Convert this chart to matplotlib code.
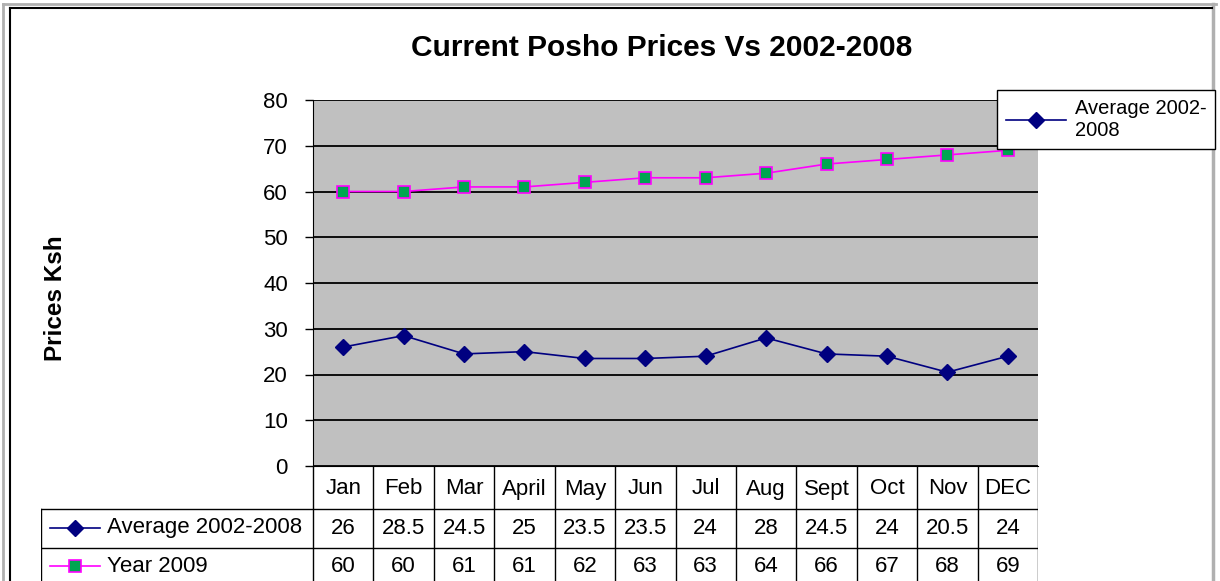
import numpy as np
import matplotlib.pyplot as plt
from matplotlib.lines import Line2D

plt.rcParams['font.family'] = ['Liberation Sans', 'DejaVu Sans']

months = ['Jan', 'Feb', 'Mar', 'April', 'May', 'Jun', 'Jul', 'Aug', 'Sept', 'Oct', 'Nov', 'DEC']
avg_0208 = [26, 28.5, 24.5, 25, 23.5, 23.5, 24, 28, 24.5, 24, 20.5, 24]
year_2009 = [60, 60, 61, 61, 62, 63, 63, 64, 66, 67, 68, 69]
series_names = ['Average 2002-2008', 'Year 2009']

W, H = 1220, 581
fig = plt.figure(figsize=(W / 100, H / 100), dpi=100)

navy = '#000080'
magenta = '#FF00FF'
green = '#00A651'
fs = 16

# plot area
ax = fig.add_axes([313 / W, 1 - 466 / H, 725 / W, 366 / H])
ax.set_facecolor('#C0C0C0')
n = len(months)
x = np.arange(n) + 0.5
ax.plot(x, avg_0208, color=navy, marker='D', ms=8, lw=1.2, zorder=3)
ax.plot(x, year_2009, color=magenta, marker='s', ms=8, mfc=green, mec=magenta,
        mew=1.2, lw=1.2, zorder=3)
ax.set_xlim(0, n)
ax.set_ylim(0, 80)
ax.set_yticks(range(0, 81, 10))
ax.set_xticks([])
ax.yaxis.grid(True, color='black', lw=1.3)
ax.set_axisbelow(True)
for s in ['top', 'right']:
    ax.spines[s].set_visible(False)
ax.spines['left'].set_color('black')
ax.spines['bottom'].set_color('black')
ax.tick_params(axis='y', direction='out', length=6, width=1, pad=12, labelsize=fs)

fig.text(55 / W, 1 - 298 / H, 'Prices Ksh', rotation=90, ha='center', va='center',
         fontsize=17.5, fontweight='bold')
fig.text(662 / W, 1 - 48 / H, 'Current Posho Prices Vs 2002-2008', ha='center',
         va='center', fontsize=21.5, fontweight='bold')

# legend
h = Line2D([], [], color=navy, marker='D', ms=8, lw=1.2)
leg = fig.legend([h], ['Average 2002-\n2008'], loc='upper left',
                 bbox_to_anchor=(997 / W, 1 - 90 / H), fontsize=14.5, frameon=True,
                 fancybox=False, edgecolor='black', framealpha=1, borderaxespad=0,
                 handlelength=3.0, handletextpad=0.4, borderpad=0.45, labelspacing=0.1)
leg.get_frame().set_linewidth(1)

# data table below the plot
unit = 725 / n
xl = -(313 - 41) / unit
tb = fig.add_axes([41 / W, 0, (1038 - 41) / W, 115 / H])
tb.set_xlim(xl, n)
tb.set_ylim(115, 0)
tb.axis('off')
rows = [0, 43, 82, 121]
for i in range(n + 1):
    tb.plot([i, i], [0, 115], color='black', lw=1)
tb.plot([xl, xl], [rows[1], 115], color='black', lw=1)
for r in rows[1:3]:
    tb.plot([xl, n], [r, r], color='black', lw=1)

for i, m in enumerate(months):
    tb.text(i + 0.5, 23, m, ha='center', va='center', fontsize=fs)
    tb.text(i + 0.5, 62, f'{avg_0208[i]:g}', ha='center', va='center', fontsize=fs)
    tb.text(i + 0.5, 100, f'{year_2009[i]:g}', ha='center', va='center', fontsize=fs)

lx0, lx1 = (50 - 313) / unit, (100 - 313) / unit
line_cols = [navy, magenta]
styles = [dict(color=navy, marker='D', ms=8),
          dict(color=magenta, marker='s', ms=8, mfc=green, mec=magenta, mew=1.2)]
for k, (name, ry) in enumerate(zip(series_names, [62, 100])):
    tb.plot([lx0, lx1], [ry, ry], lw=1.2, color=line_cols[k])
    tb.plot([(lx0 + lx1) / 2], [ry], ls='none', **styles[k])
    tb.text((107 - 313) / unit, ry, name, ha='left', va='center', fontsize=fs)

# outer chart frame
fig.add_artist(Line2D([3 / W, 1216 / W], [1 - 4 / H, 1 - 4 / H], color='#B0B0B0', lw=2))
fig.add_artist(Line2D([3 / W, 3 / W], [0, 1 - 4 / H], color='#B0B0B0', lw=2))
fig.add_artist(Line2D([1213 / W, 1213 / W], [0, 1 - 4 / H], color='#B0B0B0', lw=2.5))
fig.add_artist(Line2D([10 / W, 1212 / W], [1 - 8 / H, 1 - 8 / H], color='black', lw=1.5))
fig.add_artist(Line2D([10 / W, 10 / W], [0, 1 - 8 / H], color='black', lw=1.5))

fig.savefig('out.png', dpi=100)
